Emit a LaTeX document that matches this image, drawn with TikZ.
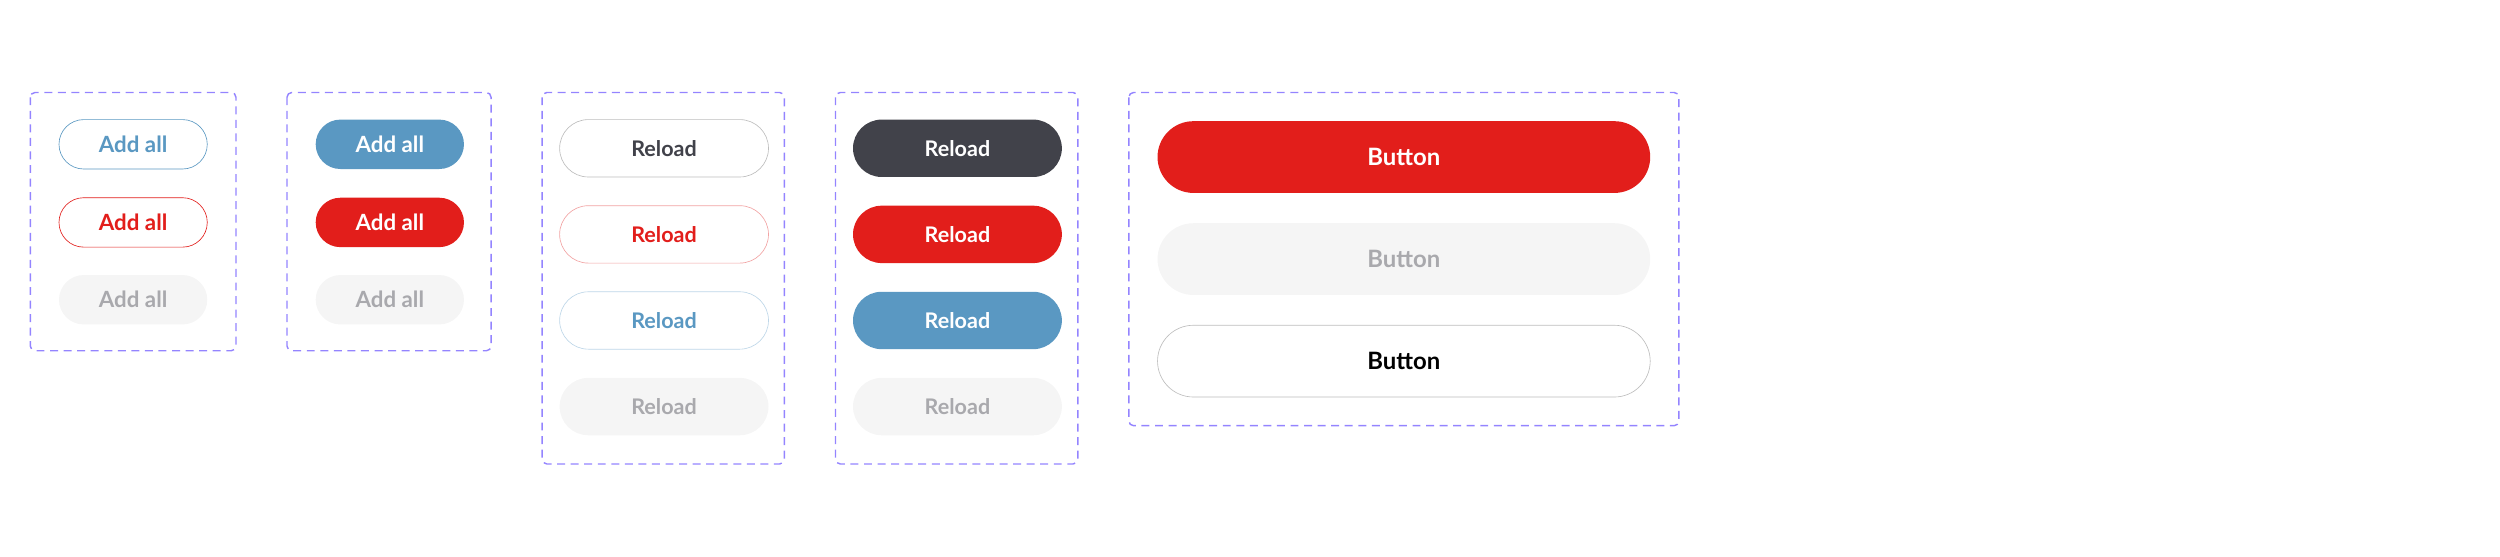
\documentclass[tikz,border=0pt]{standalone}
\usepackage{fontspec}
\setmainfont{Lato}
\definecolor{cblue}{HTML}{5A98C2}
\definecolor{cred}{HTML}{E21E1B}
\definecolor{cdark}{HTML}{41424A}
\definecolor{cgfill}{HTML}{F5F5F5}
\definecolor{cgtext}{HTML}{A9A9AD}
\definecolor{cframe}{HTML}{9484FF}
\definecolor{cgline}{HTML}{BDBDBD}
\definecolor{clred}{HTML}{F2A3A3}
\definecolor{clblue}{HTML}{BDD6E8}
\begin{document}
\begin{tikzpicture}[x=1pt,y=-1pt,
  frame/.style={draw=cframe,dashed,dash pattern=on 5pt off 3.5pt,line width=0.9pt,rounded corners=3pt},
  btn/.style={rounded corners=#1,font=\bfseries,inner sep=0pt},
  sm/.style={btn=15.5pt,minimum width=93pt,minimum height=31pt,font=\bfseries\fontsize{14}{16}\selectfont},
  md/.style={btn=18pt,minimum width=131pt,minimum height=36pt,font=\bfseries\fontsize{13.5}{16}\selectfont},
  lg/.style={btn=22.5pt,minimum width=309pt,minimum height=45pt,font=\bfseries\fontsize{15}{18}\selectfont}]
\useasboundingbox (0,0) rectangle (1568,349);
\draw[frame] (19,58) rectangle (148,220);
\draw[frame] (180,58) rectangle (308,220);
\draw[frame] (340,58) rectangle (492,291);
\draw[frame] (524,58) rectangle (676,291);
\draw[frame] (708,58) rectangle (1053,267);
% box 1
\node[sm,draw=cblue,fill=white,text=cblue] (a1) at (83.5,90.5) {Add all};
\node[sm,draw=cred,fill=white,text=cred] (a2) at (83.5,139.5) {Add all};
\node[sm,fill=cgfill,text=cgtext] (a3) at (83.5,188) {Add all};
% box 2
\node[sm,fill=cblue,text=white] (b1) at (244.5,90.5) {Add all};
\node[sm,fill=cred,text=white] (b2) at (244.5,139.5) {Add all};
\node[sm,fill=cgfill,text=cgtext] (b3) at (244.5,188) {Add all};
% box 3
\node[md,draw=cgline,fill=white,text=cdark] (c1) at (416.5,93) {Reload};
\node[md,draw=clred,fill=white,text=cred] (c2) at (416.5,147) {Reload};
\node[md,draw=clblue,fill=white,text=cblue] (c3) at (416.5,201) {Reload};
\node[md,fill=cgfill,text=cgtext] (c4) at (416.5,255) {Reload};
% box 4
\node[md,fill=cdark,text=white] (d1) at (600.5,93) {Reload};
\node[md,fill=cred,text=white] (d2) at (600.5,147) {Reload};
\node[md,fill=cblue,text=white] (d3) at (600.5,201) {Reload};
\node[md,fill=cgfill,text=cgtext] (d4) at (600.5,255) {Reload};
% box 5
\node[lg,fill=cred,text=white] (e1) at (880.5,98.5) {Button};
\node[lg,fill=cgfill,text=cgtext] (e2) at (880.5,162.5) {Button};
\node[lg,draw=cgline,fill=white,text=black] (e3) at (880.5,226.5) {Button};
\end{tikzpicture}
\end{document}
